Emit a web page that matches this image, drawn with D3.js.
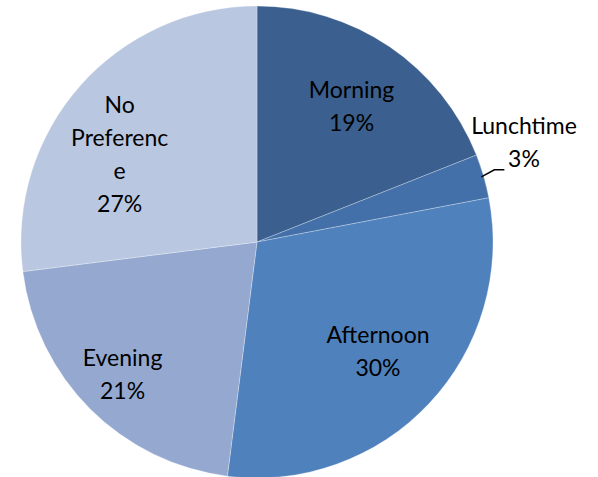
<!DOCTYPE html>
<html><head><meta charset="utf-8">
<script src="https://cdn.jsdelivr.net/npm/d3@7"></script>
<style>body{margin:0;background:#fff}</style>
</head><body>
<svg id="c" width="598" height="477"></svg>
<script>
const categories = ["Morning","Lunchtime","Afternoon","Evening","No Preference"];
const values = [19,3,30,21,27];
const labelLines = [["Morning","19%"],["Lunchtime","3%"],["Afternoon","30%"],["Evening","21%"],["No","Preferenc","e","27%"]];
const colors = ["#3B5F8F","#4370A8","#4F81BD","#95A9D0","#BAC7E1"];

const svg = d3.select("#c");
const cx = 257, cy = 242, R = 236;
const g = svg.append("g").attr("transform",`translate(${cx},${cy})`);
const pie = d3.pie().sort(null).value(d=>d)(values);
const arc = d3.arc().innerRadius(0).outerRadius(R);
g.selectAll("path").data(pie).enter().append("path")
  .attr("d",arc).attr("fill",(d,i)=>colors[i])
  .attr("stroke","#ffffff").attr("stroke-opacity",0.35).attr("stroke-width",0.8);

// label layout: radius factor and angle offset (deg)
const labelLayout = [
  {r:0.70, da:0.7},
  {outside:true, x:524, y:142},
  {r:0.69, da:-1.2},
  {r:0.80, da:0.4},
  {r:0.69, da:-8.9}
];
const lh = 33;
const font = "Lato, 'Open Sans', sans-serif";
pie.forEach((d,i)=>{
  let x,y;
  const lines = labelLines[i];
  const L = labelLayout[i];
  if (L.outside){ x = L.x; y = L.y; }
  else {
    const a = (d.startAngle+d.endAngle)/2 + L.da*Math.PI/180;
    const rr = R*L.r;
    x = Math.sin(a)*rr + cx; y = -Math.cos(a)*rr + cy;
  }
  const t = svg.append("text").attr("text-anchor","middle")
    .attr("font-family",font).attr("font-size",23).attr("fill","#000");
  const y0 = y - (lines.length-1)*lh/2;
  lines.forEach((l,k)=>{
    t.append("tspan").attr("x",x).attr("y",y0+k*lh).attr("dy","0.35em").text(l);
  });
});
// leader line for Lunchtime
const la = (pie[1].startAngle+pie[1].endAngle)/2;
const p0 = [cx+Math.sin(la)*R*0.99, cy-Math.cos(la)*R*0.99];
svg.append("path").attr("d",`M${p0[0]},${p0[1]}L${p0[0]+13},${p0[1]-7}L${p0[0]+23},${p0[1]-7}`)
  .attr("fill","none").attr("stroke","#000").attr("stroke-width",1.5);
</script>
</body></html>
